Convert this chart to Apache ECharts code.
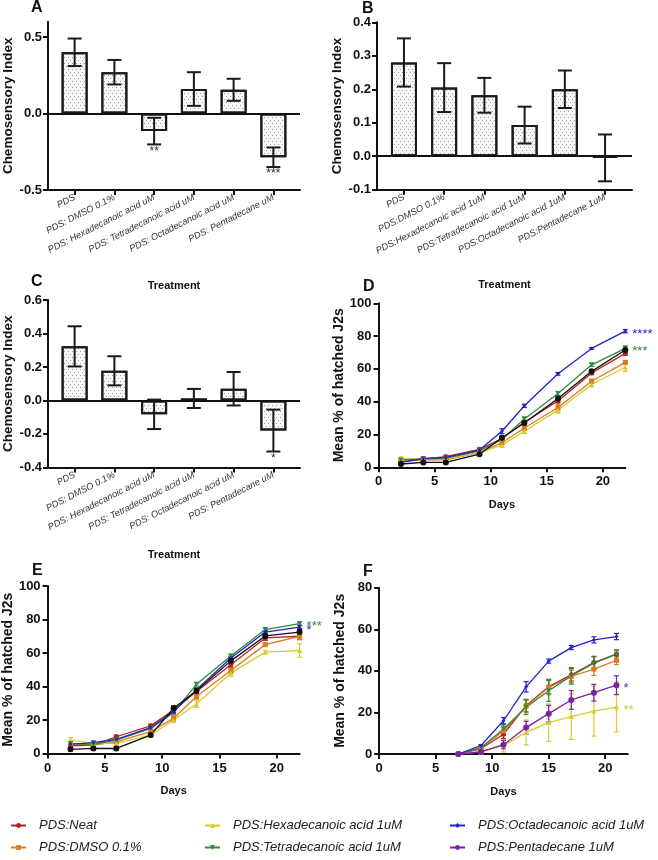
<!DOCTYPE html>
<html><head><meta charset="utf-8">
<script src="https://cdn.jsdelivr.net/npm/echarts@6/dist/echarts.min.js"></script>
<style>html,body{margin:0;padding:0;background:#fff}#c{width:658px;height:860px}</style>
</head><body><div id="c"></div><script>
// ---------- Bar panels (A, B, C) ----------
const catsA = ['PDS','PDS: DMSO 0.1%','PDS: Hexadecanoic acid uM','PDS: Tetradecanoic acid uM','PDS: Octadecanoic acid uM','PDS: Pentadecane uM'];
const meanA = [0.40, 0.27, -0.115, 0.16, 0.155, -0.286];
const errA  = [0.09, 0.08, 0.087, 0.11, 0.072, 0.064];
const starsA = ['', '', '**', '', '', '***'];
const catsB = ['PDS','PDS:DMSO 0.1%','PDS:Hexadecanoic acid 1uM','PDS:Tetradecanoic acid 1uM','PDS:Octadecanoic acid 1uM','PDS:Pentadecane 1uM'];
const meanB = [0.28, 0.205, 0.182, 0.093, 0.20, -0.005];
const errB  = [0.072, 0.073, 0.052, 0.055, 0.056, 0.070];
const starsB = ['', '', '', '', '', ''];
const catsC = ['PDS','PDS: DMSO 0.1%','PDS: Hexadecanoic acid uM','PDS: Tetradecanoic acid uM','PDS: Octadecanoic acid uM','PDS: Pentadecane uM'];
const meanC = [0.323, 0.177, -0.083, 0.012, 0.07, -0.18];
const errC  = [0.12, 0.087, 0.088, 0.057, 0.10, 0.125];
const starsC = ['', '', '', '', '', '*'];
const ticksA = [-0.5, 0, 0.5];

// ---------- Hatching panels (D, E, F) ----------
const names = ['PDS:Neat','PDS:DMSO 0.1%','PDS:Hexadecanoic acid 1uM','PDS:Tetradecanoic acid 1uM','PDS:Octadecanoic acid 1uM','PDS:Pentadecane 1uM'];
const daysD = [2, 4, 6, 9, 11, 13, 16, 19, 22];
const neatD  = [3.5, 5, 6.5, 11, 17.5, 27.5, 40.5, 57.5, 69.5];
const dmsoD  = [3.5, 4.5, 4.5, 9, 15, 24, 36.5, 52.5, 64];
const hexaD  = [5.5, 5, 5, 9, 13.5, 22, 35, 50.5, 61];
const tetraD = [4.5, 5, 5.5, 10, 17, 29.5, 45, 62.5, 72.5];
const octaD  = [3, 5.5, 6, 10.5, 22, 37.5, 57, 72.5, 83];
const pentaD = [2, 3, 3, 8, 18, 27, 42, 58.5, 71.5];
const neatDe  = [0.8, 0.8, 0.8, 0.8, 1, 1.2, 1.2, 1, 1.2];
const dmsoDe  = [0.8, 0.8, 0.8, 0.8, 1, 1.5, 2, 1.2, 1];
const hexaDe  = [0.8, 0.8, 0.8, 0.8, 1, 1.5, 2, 1.5, 2.5];
const tetraDe = [0.8, 0.8, 0.8, 0.8, 1, 1.2, 1.2, 1, 1.5];
const octaDe  = [0.8, 0.8, 0.8, 0.8, 1.5, 1, 0.8, 0.5, 1];
const pentaDe = [0.8, 0.8, 0.8, 0.8, 1, 1, 1, 1, 1];

const daysE = [2, 4, 6, 9, 11, 13, 16, 19, 22];
const neatE  = [4.5, 5, 10, 16.5, 26, 37, 53, 69, 70];
const dmsoE  = [6, 5, 7, 13, 21, 34, 49.5, 65, 70];
const hexaE  = [8, 6, 6, 11, 20, 29.5, 48, 60.5, 61.5];
const tetraE = [6, 5.5, 8, 15, 24.5, 41.3, 58.2, 74, 77.5];
const octaE  = [5.5, 6.5, 8.5, 15.5, 25, 38, 57, 72.5, 75.5];
const pentaE = [2.5, 3, 3, 11, 27, 37.5, 55.3, 70.2, 72.5];
const neatEe  = [1, 1, 1, 1, 1.5, 1.5, 1.5, 1.5, 2];
const dmsoEe  = [1, 1, 1, 1, 1.5, 1.5, 1.5, 1, 2];
const hexaEe  = [1.5, 1, 1, 1, 1.5, 2, 2, 1, 4];
const tetraEe = [1, 1, 1, 1, 1, 1, 1, 1, 1];
const octaEe  = [1, 1, 1, 1, 1, 1, 1, 1, 1];
const pentaEe = [1, 1, 1, 1, 1.5, 1.5, 1.5, 1.5, 1.5];

const daysF = [7, 9, 11, 13, 15, 17, 19, 21];
const neatF  = [0, 2.5, 9.5, 23.3, 32.4, 38.1, 44, 48];
const dmsoF  = [0, 3, 11, 23, 32, 37.3, 40.8, 45];
const hexaF  = [0, 1, 4, 10.4, 15.1, 18, 20.6, 22.6];
const tetraF = [0, 3, 12, 22.5, 30.4, 37.6, 43.7, 48];
const octaF  = [0, 4, 16, 32.3, 44.7, 51.2, 54.9, 56.5];
const pentaF = [0, 1, 4.5, 12.7, 19.4, 26, 29.5, 33.1];
const neatFe  = [0.5, 1, 2, 3, 3.5, 3, 3, 2];
const dmsoFe  = [0.5, 1, 2, 3, 3.5, 3, 3, 2];
const hexaFe  = [0.5, 1, 3, 6, 9, 11, 12, 12];
const tetraFe = [0.5, 1, 2, 3.5, 5, 4, 3, 2];
const octaFe  = [0.5, 0.5, 1.5, 2.5, 1, 1, 1.5, 1.5];
const pentaFe = [0.5, 0.5, 2, 3, 4, 4.5, 4, 4.5];

const xTicksDays = [0, 5, 10, 15, 20];
const FONT = 'Liberation Sans';

const colors = ['#B22222', '#E07A1F', '#D6CC2E', '#2E8B3C', '#2222CC', '#7E1FA8'];
const symbols = ['circle', 'rect', 'triangle', 'triangle', 'diamond', 'circle'];
const symRot = [0, 0, 0, 180, 0, 0];
const symSize = [5, 5, 5, 5, 4, 6];

function errRender(capW, lw, color) {
  return function (params, api) {
    const x = api.value(0), lo = api.value(1), hi = api.value(2);
    const p1 = api.coord([x, lo]), p2 = api.coord([x, hi]);
    const st = { stroke: color, lineWidth: lw, fill: null };
    return { type: 'group', children: [
      { type: 'line', shape: { x1: p1[0], y1: p1[1], x2: p2[0], y2: p2[1] }, style: st },
      { type: 'line', shape: { x1: p1[0] - capW / 2, y1: p1[1], x2: p1[0] + capW / 2, y2: p1[1] }, style: st },
      { type: 'line', shape: { x1: p2[0] - capW / 2, y1: p2[1], x2: p2[0] + capW / 2, y2: p2[1] }, style: st }
    ]};
  };
}

const grids = [
  { left: 47, top: 21.7, width: 253, height: 168.3 },   // A
  { left: 377, top: 22.3, width: 255, height: 167.4 },  // B
  { left: 47, top: 300, width: 253, height: 167.4 },    // C
  { left: 378.5, top: 303.3, width: 246.8, height: 164 }, // D
  { left: 47, top: 586, width: 252.6, height: 167.5 },  // E
  { left: 379.2, top: 587.7, width: 248.6, height: 166.3 } // F
];

const xAxes = [], yAxes = [], series = [];
const idx6 = [0, 1, 2, 3, 4, 5];
const axisLineStyle = { color: '#111', width: 2 };

function barPanel(g, cats, means, errs, stars, yMin, yMax, yInterval, yCustom, nameGap) {
  xAxes.push({
    type: 'value', gridIndex: g, min: -0.67, max: 5.67,
    axisLine: { onZero: false, lineStyle: axisLineStyle },
    axisTick: { customValues: idx6, length: 5, lineStyle: { color: '#111', width: 2 } },
    axisLabel: { customValues: idx6, formatter: v => cats[Math.round(v)], rotate: 27, fontSize: 9.3,
      fontStyle: 'italic', color: '#333', fontFamily: FONT, margin: 7 },
    splitLine: { show: false },
    name: 'Treatment', nameLocation: 'middle', nameGap: nameGap,
    nameTextStyle: { fontWeight: 'bold', fontSize: 11, color: '#111', fontFamily: FONT }
  });
  const ya = {
    type: 'value', gridIndex: g, min: yMin, max: yMax,
    axisLine: { show: true, onZero: false, lineStyle: axisLineStyle },
    axisTick: { show: true, length: 5, lineStyle: { color: '#111', width: 2 } },
    axisLabel: { formatter: v => v.toFixed(1), fontWeight: 'bold', fontSize: 13, color: '#111', fontFamily: FONT, margin: 6 },
    splitLine: { show: false },
    name: 'Chemosensory Index', nameLocation: 'middle', nameGap: 33,
    nameTextStyle: { fontWeight: 'bold', fontSize: 13.5, color: '#111', fontFamily: FONT }
  };
  if (yInterval) ya.interval = yInterval;
  if (yCustom) { ya.axisLabel.customValues = yCustom; ya.axisTick.customValues = yCustom; }
  yAxes.push(ya);
  series.push({
    type: 'bar', xAxisIndex: g, yAxisIndex: g, barWidth: 26, silent: true,
    data: means.map((m, i) => [i, m]),
    itemStyle: { color: '#f7f7f7', borderColor: '#1a1a1a', borderWidth: 2,
      decal: { symbol: 'rect', symbolSize: 1, dashArrayX: [[1, 3], [0, 2, 1, 1]], dashArrayY: [1, 2], color: '#a0a0a0' } },
    markLine: { silent: true, symbol: 'none', label: { show: false },
      lineStyle: { color: '#111', width: 2, type: 'solid' }, data: [{ yAxis: 0 }] },
    z: 2
  });
  series.push({
    type: 'custom', xAxisIndex: g, yAxisIndex: g, silent: true, z: 5,
    renderItem: errRender(14, 2, '#1a1a1a'),
    encode: { x: 0, y: [1, 2] },
    data: means.map((m, i) => [i, m - errs[i], m + errs[i]]),
    markPoint: { symbol: 'circle', symbolSize: 0,
      data: stars.map((s, i) => ({ s, i })).filter(o => o.s).map(o => ({
        coord: [o.i, means[o.i] - errs[o.i]],
        label: { show: true, formatter: o.s, position: 'bottom', distance: 1, color: '#333', fontSize: 12, fontFamily: FONT }
      })) }
  });
}

barPanel(0, catsA, meanA, errA, starsA, -0.5, 0.6, null, ticksA, 90);
barPanel(1, catsB, meanB, errB, starsB, -0.1, 0.4, 0.1, null, 90);
barPanel(2, catsC, meanC, errC, starsC, -0.4, 0.6, 0.2, null, 82);

function linePanel(g, days, vals, errs, yMax, colorsUsed, starMap) {
  xAxes.push({
    type: 'value', gridIndex: g, min: 0, max: 22,
    axisLine: { onZero: false, lineStyle: axisLineStyle },
    axisTick: { customValues: xTicksDays, length: 5, lineStyle: { color: '#111', width: 2 } },
    axisLabel: { customValues: xTicksDays, fontWeight: 'bold', fontSize: 13, color: '#111', fontFamily: FONT, margin: 8 },
    splitLine: { show: false },
    name: 'Days', nameLocation: 'middle', nameGap: 32,
    nameTextStyle: { fontWeight: 'bold', fontSize: 11, color: '#111', fontFamily: FONT }
  });
  yAxes.push({
    type: 'value', gridIndex: g, min: 0, max: yMax, interval: 20,
    axisLine: { show: true, onZero: false, lineStyle: axisLineStyle },
    axisTick: { show: true, length: 5, lineStyle: { color: '#111', width: 2 } },
    axisLabel: { fontWeight: 'bold', fontSize: 13, color: '#111', fontFamily: FONT, margin: 7 },
    splitLine: { show: false },
    name: 'Mean % of hatched J2s', nameLocation: 'middle', nameGap: 32,
    nameTextStyle: { fontWeight: 'bold', fontSize: 14, color: '#111', fontFamily: FONT }
  });
  vals.forEach((v, k) => {
    const col = colorsUsed[k];
    const star = starMap[k];
    const last = v.length - 1;
    series.push({
      type: 'custom', xAxisIndex: g, yAxisIndex: g, silent: true, z: 3,
      name: names[k] + ' (SEM)',
      renderItem: errRender(5, 1.2, col), encode: { x: 0, y: [1, 2] },
      itemStyle: { color: col },
      data: v.map((m, i) => [days[i], m - errs[k][i], m + errs[k][i]])
    });
    const s = {
      type: 'line', xAxisIndex: g, yAxisIndex: g, name: names[k], silent: true, z: 4,
      data: v.map((m, i) => [days[i], m]),
      symbol: symbols[k], symbolRotate: symRot[k], symbolSize: symSize[k], showSymbol: true,
      lineStyle: { color: col, width: 1.3 }, itemStyle: { color: col },
      animation: false
    };
    if (star) {
      s.markPoint = { symbol: 'circle', symbolSize: 0, data: [{
        coord: [days[last], v[last]],
        label: { show: true, formatter: star, position: 'right', distance: 7, offset: [0, 3],
          color: col, fontSize: 13, fontFamily: FONT }
      }] };
    }
    series.push(s);
  });
}

// F first so the legend takes its colours (purple Pentadecane)
linePanel(5, daysF, [neatF, dmsoF, hexaF, tetraF, octaF, pentaF], [neatFe, dmsoFe, hexaFe, tetraFe, octaFe, pentaFe], 80,
  colors, { 5: '*', 2: '**' });
const colorsDE = colors.slice(0, 5).concat(['#111111']);
linePanel(3, daysD, [neatD, dmsoD, hexaD, tetraD, octaD, pentaD], [neatDe, dmsoDe, hexaDe, tetraDe, octaDe, pentaDe], 100,
  colorsDE, { 4: '****', 3: '***' });
linePanel(4, daysE, [neatE, dmsoE, hexaE, tetraE, octaE, pentaE], [neatEe, dmsoEe, hexaEe, tetraEe, octaEe, pentaEe], 100,
  colorsDE, { 3: '***', 4: '*' });

function byGrid(arr) { const out = []; arr.forEach(a => { out[a.gridIndex] = a; }); return out; }

// legend: 3 columns x 2 rows, one component per entry
const legendCols = [10, 204, 449];
const legendRows = [819, 841];
const legendOrder = [[0, 0, 0], [1, 0, 1], [2, 1, 0], [3, 1, 1], [4, 2, 0], [5, 2, 1]];
const legends = legendOrder.map(([k, c, r]) => ({
  data: [names[k]], left: legendCols[c], top: legendRows[r], orient: 'horizontal',
  itemWidth: 15, itemHeight: 6, selectedMode: false, padding: 0,
  textStyle: { fontStyle: 'italic', fontSize: 13, color: '#222', fontFamily: FONT, padding: [0, 0, 0, 8] }
}));

const letters = [['A', 31, 0], ['B', 362, 1], ['C', 31, 274], ['D', 363, 279], ['E', 32, 563], ['F', 363, 564]];

const option = {
  animation: false,
  backgroundColor: '#fff',
  grid: grids,
  xAxis: byGrid(xAxes),
  yAxis: byGrid(yAxes),
  series: series,
  legend: legends,
  graphic: letters.map(l => ({
    type: 'text', left: l[1], top: l[2],
    style: { text: l[0], font: 'bold 16px "' + FONT + '"', fill: '#111' }
  }))
};

const chart = echarts.init(document.getElementById('c'), null, { renderer: 'canvas' });
chart.setOption(option);
</script></body></html>
